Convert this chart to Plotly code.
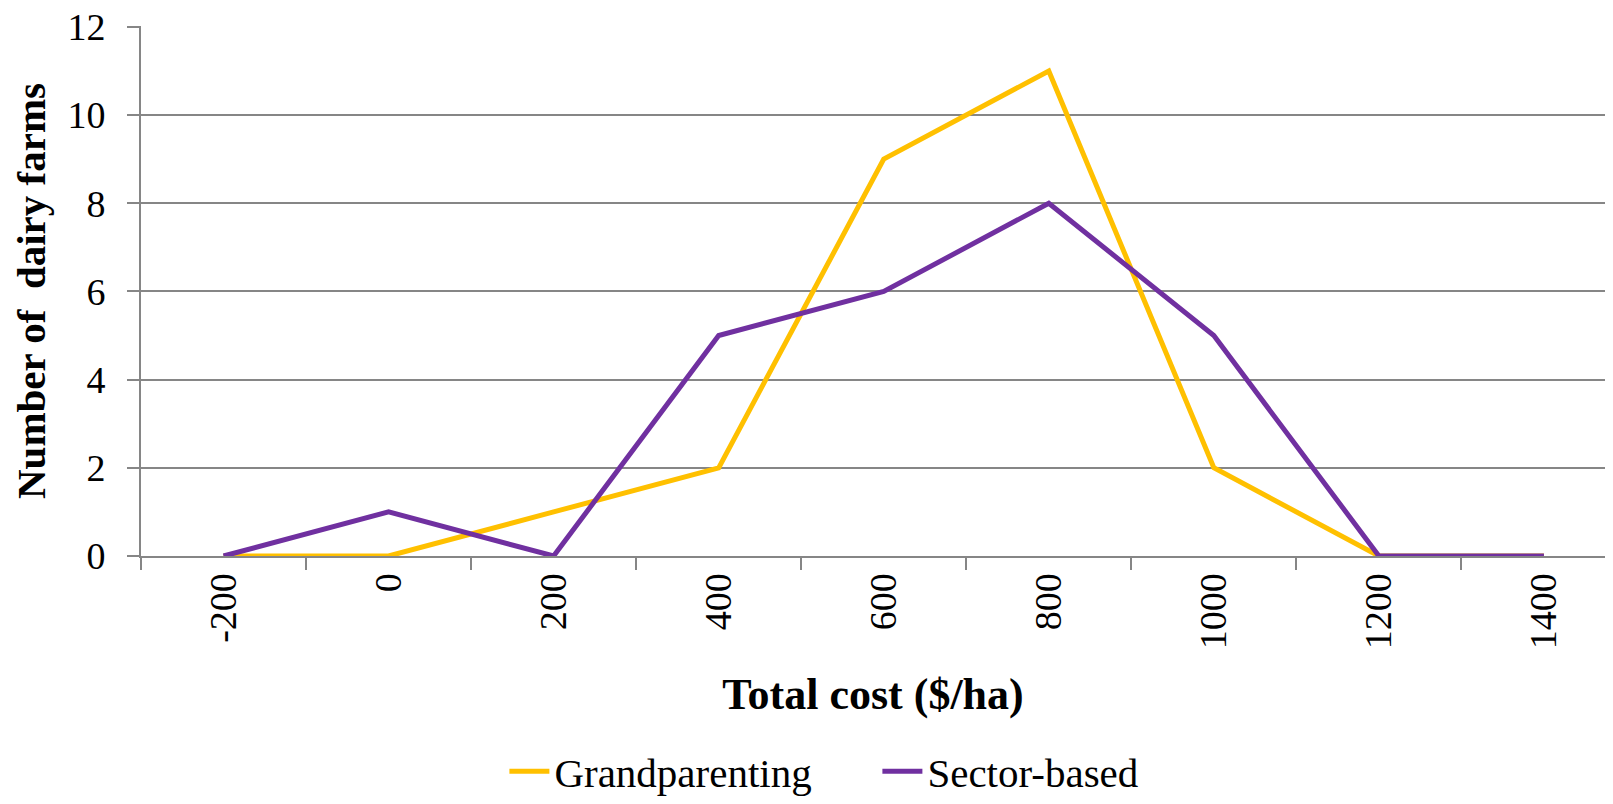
import plotly.graph_objects as go

# Data
cost_bins = ["-200", "0", "200", "400", "600", "800", "1000", "1200", "1400"]
grandparenting = [0, 0, 1, 2, 9, 11, 2, 0, 0]
sector_based = [0, 1, 0, 5, 6, 8, 5, 0, 0]

FONT = "Liberation Serif"
GRID = "#868686"

fig = go.Figure()

fig.add_trace(go.Scatter(
    x=cost_bins, y=grandparenting, mode="lines", name="Grandparenting",
    line=dict(color="#FFC000", width=5)
))
fig.add_trace(go.Scatter(
    x=cost_bins, y=sector_based, mode="lines", name="Sector-based",
    line=dict(color="#7030A0", width=5)
))

# page body has an 8px margin, so size the figure to fit the window
fig.update_layout(
    width=1597,
    height=788,
    margin=dict(l=133, r=0, t=18, b=240),
    plot_bgcolor="white",
    paper_bgcolor="white",
    font=dict(family=FONT, size=38, color="black"),
    showlegend=True,
    legend=dict(
        orientation="h", x=0.503, xanchor="center",
        yref="container", y=0.031, yanchor="middle",
        font=dict(family=FONT, size=41), itemwidth=40,
        entrywidth=318, entrywidthmode="pixels"
    ),
)

fig.update_xaxes(
    type="category",
    range=[-0.5, 8.37],
    automargin=False,
    tickson="boundaries",
    ticks="outside", ticklen=12, tickwidth=2, tickcolor=GRID,
    showline=True, linecolor=GRID, linewidth=2,
    showgrid=False,
    tickangle=-90,
    ticklabelstandoff=0,
    tickfont=dict(family=FONT, size=38),
    title=dict(text="<b>Total cost ($/ha)</b>", font=dict(family=FONT, size=44), standoff=30),
)

fig.update_yaxes(
    range=[0, 12.02],
    tickvals=[0, 2, 4, 6, 8, 10, 12],
    automargin=False,
    ticklabeloverflow="allow",
    ticks="outside", ticklen=12, tickwidth=2, tickcolor=GRID,
    showline=True, linecolor=GRID, linewidth=2,
    showgrid=True, gridcolor=GRID, gridwidth=1.5,
    zeroline=False,
    ticklabelstandoff=14,
    tickfont=dict(family=FONT, size=38),
    title=dict(text="<b>Number of  dairy farms</b>", font=dict(family=FONT, size=41), standoff=10),
)

fig.write_html("out.html")
